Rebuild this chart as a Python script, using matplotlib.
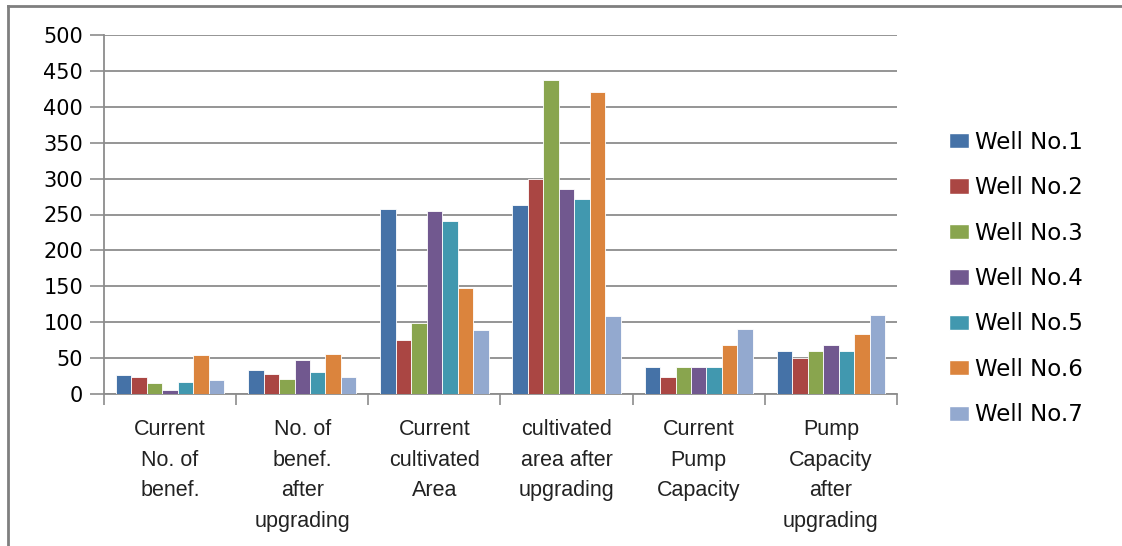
import numpy as np
import matplotlib
matplotlib.use("Agg")
import matplotlib.pyplot as plt
from matplotlib.lines import Line2D
from matplotlib.patches import Patch

categories = ["Current\nNo. of\nbenef.", "No. of\nbenef.\nafter\nupgrading",
              "Current\ncultivated\nArea", "cultivated\narea after\nupgrading",
              "Current\nPump\nCapacity", "Pump\nCapacity\nafter\nupgrading"]
wells = ["Well No.1", "Well No.2", "Well No.3", "Well No.4",
         "Well No.5", "Well No.6", "Well No.7"]
well1 = [27, 34, 257, 263, 38, 60]
well2 = [24, 28, 75, 300, 24, 50]
well3 = [15, 21, 99, 437, 38, 60]
well4 = [6, 47, 255, 286, 38, 68]
well5 = [17, 31, 241, 272, 38, 60]
well6 = [54, 56, 148, 421, 68, 84]
well7 = [19, 24, 89, 109, 90, 110]
series = [well1, well2, well3, well4, well5, well6, well7]
colors = ["#4572A7", "#AA4643", "#89A54E", "#71588F", "#4198AF", "#DB843D", "#93A9CF"]

fig = plt.figure(figsize=(11.22, 5.46), dpi=100)
ax = fig.add_axes([104 / 1122, 1 - 394 / 546, (897 - 104) / 1122, (394 - 35) / 546])

x = np.arange(len(categories))
w = 0.82 / len(series)
for i, (vals, col) in enumerate(zip(series, colors)):
    ax.bar(x + (i - 3) * w, vals, width=w, color=col, edgecolor="white",
           linewidth=0.6, zorder=3, label=wells[i])

ax.set_xlim(-0.5, len(categories) - 0.5)
ax.set_ylim(0, 500)
ax.set_yticks(range(0, 501, 50))
ax.yaxis.grid(True, color="#8c8c8c", lw=1.3, zorder=0)
ax.tick_params(axis="y", length=10, width=1.2, color="#8c8c8c", labelsize=15, pad=5)
ax.set_xticks(np.arange(-0.5, len(categories), 1.0))
ax.set_xticklabels([])
ax.set_xticks(x, minor=True)
ax.set_xticklabels(categories, minor=True, fontsize=15.5, linespacing=1.6,
                   family="Liberation Sans", color="#222222")
ax.tick_params(axis="x", which="major", length=8, width=1.2, color="#8c8c8c")
ax.tick_params(axis="x", which="minor", length=0, pad=18)
for s in ["top", "right"]:
    ax.spines[s].set_visible(False)
for s in ["left", "bottom"]:
    ax.spines[s].set_color("#8c8c8c")
    ax.spines[s].set_linewidth(1.3)

handles = [Patch(facecolor=c, edgecolor="white") for c in colors]
fig.legend(handles, wells, loc="center left", bbox_to_anchor=(0.827, 0.49),
           frameon=False, fontsize=16.5, labelspacing=0.98, handlelength=0.9,
           handleheight=0.65, handletextpad=0.25)

# outer chart frame (top and left edges visible)
fig.add_artist(Line2D([8 / 1122, 8 / 1122], [0, 1 - 6 / 546], color="#7f7f7f", lw=2,
                      transform=fig.transFigure))
fig.add_artist(Line2D([8 / 1122, 1], [1 - 6 / 546, 1 - 6 / 546], color="#7f7f7f", lw=2,
                      transform=fig.transFigure))

fig.savefig("out.png", dpi=100)
